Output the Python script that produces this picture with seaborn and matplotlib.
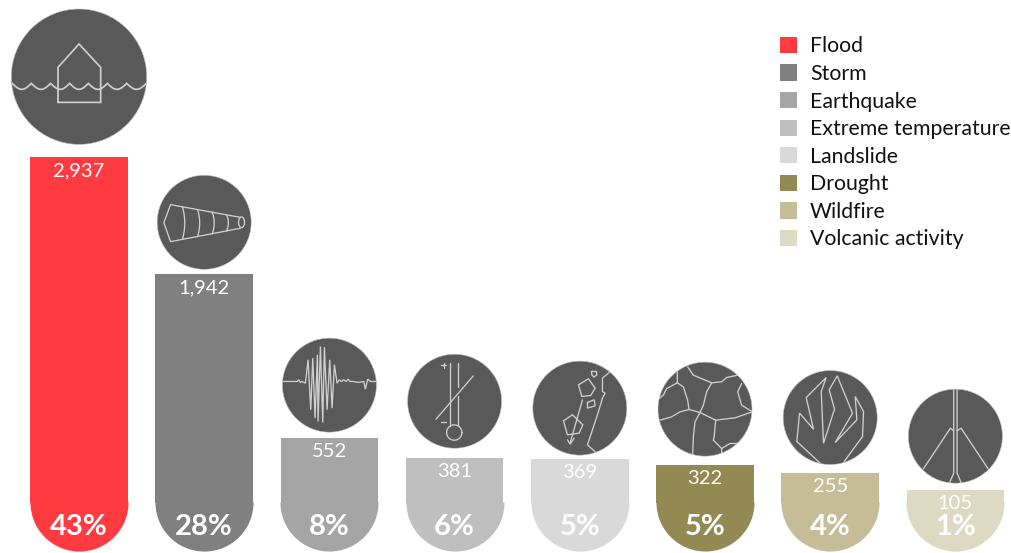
import numpy as np
import pandas as pd
import matplotlib
matplotlib.use("Agg")
import matplotlib.pyplot as plt
from matplotlib.markers import MarkerStyle
from matplotlib.patches import Circle, Patch
from matplotlib.transforms import Affine2D
import seaborn as sns

disaster_types = ["Flood", "Storm", "Earthquake", "Extreme temperature",
                  "Landslide", "Drought", "Wildfire", "Volcanic activity"]
event_counts = [2937, 1942, 552, 381, 369, 322, 255, 105]
share_percent = [43, 28, 8, 6, 5, 5, 4, 1]
bar_colours = ["#FF3B41", "#808080", "#A5A5A5", "#BFBFBF",
               "#D9D9D9", "#938953", "#C4BD97", "#DDD9C3"]

WIDTH_PX, HEIGHT_PX, DPI = 1011, 553, 100
PX_PER_CATEGORY = 125.2
FIRST_CENTRE_PX = 79.0
PX_PER_EVENT = 0.1175
BASELINE_PX = 50.5
BAR_WIDTH_PX = 97.5
ICON_INK = "#595959"
ICON_LINE = "#CFCFCF"

sns.set_theme(style="white")
plt.rcParams["font.family"] = ["Lato", "DejaVu Sans"]

fig = plt.figure(figsize=(WIDTH_PX / DPI, HEIGHT_PX / DPI), dpi=DPI)
ax = fig.add_axes([0, 0, 1, 1])

events = pd.DataFrame({"disaster": disaster_types, "events": event_counts})
sns.barplot(data=events, x="disaster", y="events", hue="disaster",
            palette=bar_colours, saturation=1, dodge=False, legend=False,
            width=BAR_WIDTH_PX / PX_PER_CATEGORY, linewidth=0, ax=ax)
ax.set_xlim(-FIRST_CENTRE_PX / PX_PER_CATEGORY,
            (WIDTH_PX - FIRST_CENTRE_PX) / PX_PER_CATEGORY)
ax.set_ylim(-BASELINE_PX / PX_PER_EVENT,
            (HEIGHT_PX - BASELINE_PX) / PX_PER_EVENT)
ax.axis("off")

# Rounded foot under each bar, centred on the zero line; a hair of overlap
# keeps the join between bar and foot from showing.
foot_size = (BAR_WIDTH_PX + 0.6) * 72 / DPI
foot_overlap = 0.5 / PX_PER_EVENT
for i, colour in enumerate(bar_colours):
    ax.plot([i], [foot_overlap], linestyle="none",
            marker=MarkerStyle("o", fillstyle="bottom"), markersize=foot_size,
            markerfacecolor=colour, markerfacecoloralt="none",
            markeredgewidth=0, zorder=2)

# Counts just inside the bar top, shares on the foot.
for i, (count, share) in enumerate(zip(event_counts, share_percent)):
    ax.annotate(f"{count:,}", (i, count), xytext=(0, -13.5 * 72 / DPI),
                textcoords="offset points", ha="center", va="center",
                color="white", fontsize=14.5, zorder=4)
    ax.annotate(f"{share}%", (i, 0), xytext=(0, -24.5 * 72 / DPI),
                textcoords="offset points", ha="center", va="center",
                color="white", fontsize=21, fontweight="bold", zorder=4)


def curve(start, bend, end, n=14):
    """Quadratic curve through a control point, for the storm bands."""
    t = np.linspace(0, 1, n)[:, None]
    a, b, c = map(np.asarray, (start, bend, end))
    return (1 - t) ** 2 * a + 2 * t * (1 - t) * b + t ** 2 * c


def ring(cx, cy, rx, ry, n=40):
    t = np.linspace(0, 2 * np.pi, n)
    return np.column_stack([cx + rx * np.cos(t), cy + ry * np.sin(t)])


def waves(cusps, top, depth):
    pts = []
    for a, b in zip(cusps[:-1], cusps[1:]):
        x = np.linspace(a, b, 14)
        pts.append(np.column_stack([x, top + depth * np.sin(np.pi * (x - a) / (b - a))]))
    return np.vstack(pts)


# Each pictogram: sketch-grid centre, sketch-grid radius, strokes.
flood_icon = ((235, 230), 203, [
    [(172, 307), (172, 202), (235, 132), (300, 202), (300, 307), (172, 307)],
    waves([35, 92, 150, 207, 263, 320, 378, 437], 250, 18),
])
storm_icon = ((614, 667), 141, [
    [(722, 652), (513, 614), (493, 668), (513, 725), (722, 685)],
    curve((549, 621), (562, 668), (549, 718)),
    curve((594, 629), (607, 668), (594, 710)),
    curve((638, 637), (650, 668), (638, 702)),
    curve((681, 645), (692, 668), (681, 693)),
    ring(726, 667, 9, 16),
])
quake_icon = ((182, 166), 141, [
    [(42, 155), (85, 155), (90, 150), (95, 158), (100, 155), (110, 160), (118, 90),
     (126, 240), (132, 85), (139, 265), (146, 75), (148, 275), (155, 50), (162, 278),
     (167, 52), (175, 240), (183, 90), (190, 235), (197, 105), (205, 160), (212, 150),
     (218, 155), (225, 150), (232, 155), (238, 148), (244, 155), (252, 155), (270, 158),
     (285, 155), (290, 178), (297, 148), (305, 155), (322, 155)],
])
heat_icon = ((561, 214), 141, [
    [(548, 98), (548, 288)],
    [(572, 98), (572, 172)],
    [(572, 198), (572, 288)],
    ring(560, 308, 23, 23),
    [(505, 268), (617, 138)],
    [(520, 106), (536, 106)],
    [(528, 98), (528, 114)],
    [(520, 275), (536, 275)],
])
slide_icon = ((922, 235), 141, [
    [(1010, 128), (990, 145), (990, 185), (998, 190), (990, 205), (975, 255),
     (960, 300), (945, 345), (970, 368)],
    [(957, 125), (972, 125), (973, 135), (965, 142), (958, 135), (957, 125)],
    [(918, 165), (948, 147), (968, 175), (955, 197), (928, 200), (918, 165)],
    [(945, 218), (965, 210), (968, 228), (945, 235), (945, 218)],
    [(873, 273), (900, 255), (931, 285), (920, 310), (885, 315), (873, 273)],
    [(930, 210), (893, 340)],
    [(885, 330), (893, 343), (905, 325)],
])
drought_icon = ((200, 177), 141, [
    [(148, 50), (165, 75), (220, 98), (250, 95), (265, 82), (298, 75)],
    [(220, 98), (205, 125), (195, 165), (185, 187)],
    [(117, 62), (117, 98), (135, 110), (148, 150), (152, 178), (185, 187),
     (232, 210), (290, 203), (342, 185)],
    [(117, 98), (85, 115), (75, 135), (62, 145)],
    [(65, 210), (100, 200), (125, 185), (152, 178)],
    [(185, 187), (170, 215), (165, 260), (163, 315)],
    [(232, 210), (228, 255), (225, 270), (250, 295), (250, 308)],
    [(250, 295), (275, 280), (300, 280)],
    [(310, 100), (298, 125), (310, 165), (342, 185)],
])
fire_icon = ((575, 203), 141, [
    [(545, 340), (475, 275), (483, 190), (525, 238), (503, 143), (563, 83), (548, 125),
     (555, 280), (588, 178), (572, 120), (596, 78), (642, 190), (590, 278), (655, 210),
     (650, 140), (675, 185), (672, 260), (617, 335)],
])
volcano_icon = ((948, 259), 141, [
    [(943, 118), (943, 370), (930, 400)],
    [(953, 118), (953, 370), (966, 400)],
    [(852, 357), (933, 235), (943, 243)],
    [(1047, 358), (965, 235), (953, 243)],
])
icons = [flood_icon, storm_icon, quake_icon, heat_icon,
         slide_icon, drought_icon, fire_icon, volcano_icon]
icon_radius_px = [67.7, 47, 47, 47, 47, 47, 47, 47]
icon_gap_px = [13, 5, 5.5, 9.5, 4, 8.5, 8, 7]

for i, (icon, radius, gap) in enumerate(zip(icons, icon_radius_px, icon_gap_px)):
    (gx, gy), g_radius, strokes = icon
    base_x, base_y = ax.transData.transform((i, event_counts[i]))
    place = (Affine2D().translate(-gx, -gy).scale(radius / g_radius, -radius / g_radius)
             .translate(base_x, base_y + gap + radius))
    disc = Circle((gx, gy), g_radius, transform=place, facecolor=ICON_INK,
                  edgecolor="#BDBDBD", linewidth=0.4, zorder=5, clip_on=False)
    ax.add_patch(disc)
    for stroke in strokes:
        xy = np.asarray(stroke, dtype=float)
        line, = ax.plot(xy[:, 0], xy[:, 1], color=ICON_LINE,
                        linewidth=1.25 if radius > 50 else 0.95,
                        transform=place, zorder=6, scalex=False, scaley=False,
                        solid_joinstyle="miter")
        line.set_clip_path(disc)

handles = [Patch(facecolor=c, edgecolor="none", label=d)
           for c, d in zip(bar_colours, disaster_types)]
ax.legend(handles=handles, loc="upper left", bbox_to_anchor=(780 / WIDTH_PX, 1 - 36.5 / HEIGHT_PX),
          frameon=False, fontsize=15.3, borderpad=0, borderaxespad=0,
          handlelength=0.81, handleheight=0.81, handletextpad=0.6,
          labelspacing=0.355, labelcolor="#111111")

fig.savefig("out.png", dpi=DPI, facecolor="white")
